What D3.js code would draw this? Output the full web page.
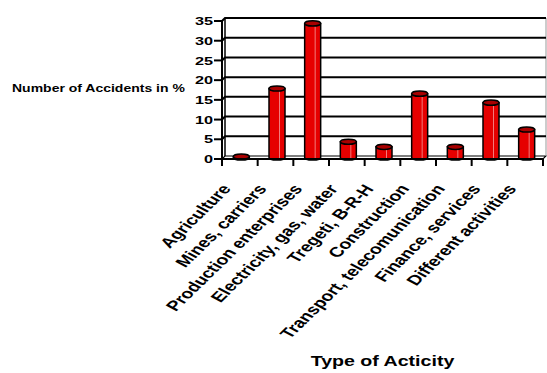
<!DOCTYPE html>
<html>
<head>
<meta charset="utf-8">
<script src="https://cdn.jsdelivr.net/npm/d3@7"></script>
<style>
  html, body { margin: 0; padding: 0; background: #fff; }
  svg { display: block; }
  text { font-family: Arial, "Liberation Sans", sans-serif; font-weight: bold; fill: #000; }
</style>
</head>
<body>
<svg id="chart" width="547" height="373"></svg>
<script>
// Share of accidents by type of activity (%)
const categories = [
  "Agriculture",
  "Mines, carriers",
  "Production enterprises",
  "Electricity, gas, water",
  "Tregeti, B-R-H",
  "Construction",
  "Transport, telecomunication",
  "Finance, services",
  "Different activities"
];
const values = [0.2, 17.5, 34.0, 4.0, 2.7, 16.2, 2.7, 13.9, 7.1];
const yTicks = [0, 5, 10, 15, 20, 25, 30, 35];
const yTitle = "Number of Accidents in %";
const xTitle = "Type of Acticity";

const svg = d3.select("#chart");
const stretch = 1.4;           // text is drawn horizontally widened
const depthX = 3, depthY = -3; // 3D depth offset of the back wall

const x = d3.scaleBand().domain(categories).range([222, 543]).padding(0);
const y = d3.scaleLinear().domain([0, 35]).range([159, 21]);
const yBack = v => y(v) + depthY;

// floor
svg.append("polygon")
  .attr("points", [[x.range()[0], y(0)], [x.range()[1], y(0)],
                   [x.range()[1] + depthX, yBack(0)], [x.range()[0] + depthX, yBack(0)]].join(" "))
  .attr("fill", "#fff").attr("stroke", "#000").attr("stroke-width", 1.2);

// right edge of the back wall
svg.append("line")
  .attr("x1", x.range()[1] + depthX).attr("x2", x.range()[1] + depthX)
  .attr("y1", yBack(35)).attr("y2", yBack(0))
  .attr("stroke", "#999").attr("stroke-width", 1);

// gridlines across the side wall and the back wall
svg.append("g").selectAll("polyline").data(yTicks.filter(d => d > 0)).join("polyline")
  .attr("points", d => [[x.range()[0], y(d)], [x.range()[0] + depthX, yBack(d)],
                        [x.range()[1] + depthX, yBack(d)]].join(" "))
  .attr("fill", "none").attr("stroke", "#000").attr("stroke-width", 2);

// left edge of the back wall
svg.append("line")
  .attr("x1", x.range()[0] + depthX).attr("x2", x.range()[0] + depthX)
  .attr("y1", yBack(35)).attr("y2", yBack(0))
  .attr("stroke", "#000").attr("stroke-width", 1.5);

// cylinders
const rx = 8, ry = 2.6;
const baseY = (y(0) + yBack(0)) / 2;
const bars = svg.append("g").selectAll("g").data(categories).join("g")
  .attr("transform", d => `translate(${x(d) + x.bandwidth() / 2 + depthX / 2},0)`);

bars.each(function(d, i) {
  const g = d3.select(this);
  const top = baseY - (y(0) - y(values[i]));
  // body with rounded bottom
  g.append("path")
    .attr("d", `M${-rx},${top} L${-rx},${baseY} A${rx},${ry} 0 0 0 ${rx},${baseY} L${rx},${top} Z`)
    .attr("fill", "#e60000").attr("stroke", "#000").attr("stroke-width", 1.5);
  // highlight stripe
  if (baseY - top > 3) {
    g.append("line")
      .attr("x1", 2.5).attr("x2", 2.5).attr("y1", top + ry).attr("y2", baseY + ry - 0.5)
      .attr("stroke", "#f59a9a").attr("stroke-width", 0.8);
  }
  // top cap
  g.append("ellipse")
    .attr("cx", 0).attr("cy", top).attr("rx", rx).attr("ry", ry)
    .attr("fill", "#a80000").attr("stroke", "#000").attr("stroke-width", 1.5);
});

// front axes
svg.append("line")
  .attr("x1", x.range()[0]).attr("x2", x.range()[0])
  .attr("y1", y(35)).attr("y2", y(0))
  .attr("stroke", "#000").attr("stroke-width", 2);
svg.append("line")
  .attr("x1", x.range()[0]).attr("x2", x.range()[1])
  .attr("y1", y(0)).attr("y2", y(0))
  .attr("stroke", "#000").attr("stroke-width", 2);

// y ticks and labels
const yt = svg.append("g");
yt.selectAll("line").data(yTicks).join("line")
  .attr("x1", x.range()[0] - 8).attr("x2", x.range()[0])
  .attr("y1", d => y(d)).attr("y2", d => y(d))
  .attr("stroke", "#000").attr("stroke-width", 2);
yt.selectAll("text").data(yTicks).join("text")
  .attr("transform", d => `translate(${x.range()[0] - 9},${y(d) + 4.2}) scale(${stretch},1)`)
  .attr("text-anchor", "end")
  .style("font-size", "11.6px")
  .text(d => d);

// x ticks at category boundaries
const bounds = categories.map(c => x(c)).concat([x.range()[1]]);
svg.append("g").selectAll("line").data(bounds).join("line")
  .attr("x1", d => d).attr("x2", d => d)
  .attr("y1", y(0)).attr("y2", y(0) + 7)
  .attr("stroke", "#000").attr("stroke-width", 2);

// rotated category labels
svg.append("g").selectAll("text").data(categories).join("text")
  .attr("transform", d => `translate(${x(d) + x.bandwidth() / 2 - 8},${y(0) + 30}) scale(${stretch},1) rotate(-53.5)`)
  .attr("text-anchor", "end")
  .style("font-size", "14px")
  .text(d => d);

// axis titles
svg.append("text")
  .attr("transform", `translate(12,92) scale(${stretch},1)`)
  .style("font-size", "10px")
  .text(yTitle);
svg.append("text")
  .attr("transform", `translate(382.5,366) scale(${stretch},1)`)
  .attr("text-anchor", "middle")
  .style("font-size", "14px")
  .text(xTitle);
</script>
</body>
</html>
